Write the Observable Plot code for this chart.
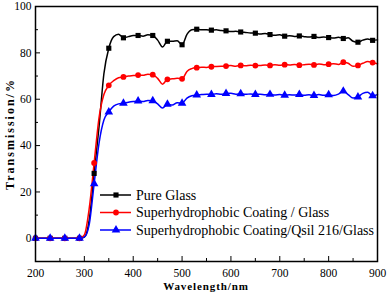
<!DOCTYPE html>
<html><head><meta charset="utf-8">
<script src="https://cdn.jsdelivr.net/npm/d3@7"></script>
<script src="https://cdn.jsdelivr.net/npm/@observablehq/plot@0.6"></script>
<style>body{margin:0;background:#fff}</style>
</head><body><div id="chart"></div>
<script>
const wavelength = [200,210,220,230,240,250,260,270,280,290,300,310,320,330,340,350,360,370,380,390,400,410,420,430,440,450,460,470,480,490,500,510,520,530,540,550,560,570,580,590,600,610,620,630,640,650,660,670,680,690,700,710,720,730,740,750,760,770,780,790,800,810,820,830,840,850,860,870,880,890,900];

const pureGlass = [0,0,0,0,0,0,0,0,0,0,0.5,8,28,48,71,82,87,88,86.5,87,87.5,87.5,87.2,87.8,87.5,85.5,82.5,85,85,85.2,83.5,88,90,90.2,90,90,89.8,90,89.6,89.5,89.2,89.3,89,88.8,88.6,88.5,88.1,88.4,87.9,87.6,87.8,87.2,87.4,87.1,87.3,87,86.8,87.1,86.6,86.8,86.6,86.4,86.7,86.2,86.5,85,84.6,85.5,86,85.4,85.6];

const coatingGlass = [0,0,0,0,0,0,0,0,0,0,1.5,13,32.5,52,62,66,68,69.3,69.6,70,70.2,70.4,70.3,70.8,70.6,69,66.5,68.6,68.8,69,68.8,72,73.2,73.6,73.8,73.7,74,74.1,74.2,74.3,74.5,74.2,74.6,74.4,74.7,74.5,74.6,74.8,74.6,74.9,74.7,74.9,74.8,75,74.7,74.9,75.1,74.8,75.2,74.9,75.1,75.3,75,76,75.5,74.2,74.6,75.5,76.3,75.8,75.3];

const coatingQsilGlass = [0,0,0,0,0,0,0,0,0,0,0.5,6,23.5,41,51,54.5,57,58,58.3,58.7,59,59.2,59,59.5,59.3,58,56.2,57.8,57.5,58.5,58.3,60.5,61.5,61.8,62,62.2,62,62.4,62.1,62.5,62.6,62.2,62.4,62.1,62.3,62,62.2,61.9,62.1,61.8,62,61.7,61.9,61.8,62,61.7,61.9,61.6,62,61.7,61.9,61.6,62.2,63.5,62,60.5,61,62.5,63,61.5,62];

const seriesNames = ["Pure Glass", "Superhydrophobic Coating / Glass", "Superhydrophobic Coating/Qsil 216/Glass"];
const seriesColors = ["#000000", "#ff0000", "#0000ff"];
const seriesSymbols = ["square", "circle", "triangle"];
const xTicks = [200,300,400,500,600,700,800,900];
const xMinor = [250,350,450,550,650,750,850];
const yTicks = [0,20,40,60,80,100];
const yMinor = [-10,10,30,50,70,90];

const seriesValues = [pureGlass, coatingGlass, coatingQsilGlass];
const rows = [];
seriesValues.forEach((vals, s) => vals.forEach((v, i) => rows.push({x: wavelength[i], y: v, s, i})));
const markerRows = rows.filter(d => d.i % 3 === 0);

const plot = Plot.plot({
  width: 389, height: 293,
  marginLeft: 35, marginRight: 12, marginTop: 6, marginBottom: 32,
  style: {fontFamily: "Liberation Serif", fontSize: "11.5px", background: "white", color: "black"},
  x: {domain: [200, 900]},
  y: {domain: [-10, 100]},
  marks: [
    Plot.axisX({ticks: xTicks, tickSize: -5, tickPadding: 12, label: null, tickFormat: d => d}),
    Plot.axisX({ticks: xMinor, tickSize: -3, text: null, label: null}),
    Plot.axisY({ticks: yTicks, tickSize: -5, tickPadding: 9, label: null, tickFormat: d => d}),
    Plot.axisY({ticks: yMinor, tickSize: -3, text: null, label: null}),
    ...[0,1,2].map(s => Plot.line(rows.filter(d => d.s === s), {x: "x", y: "y", stroke: seriesColors[s], strokeWidth: 1.5, curve: "monotone-x"})),
    ...[0,1,2].map(s => Plot.dot(markerRows.filter(d => d.s === s), {x: "x", y: "y", fill: seriesColors[s], stroke: "none", symbol: () => seriesSymbols[s], r: s === 2 ? 3.2 : 2.9})),
    Plot.frame({stroke: "black", strokeWidth: 1.5})
  ]
});
document.getElementById("chart").append(plot);

const svg = d3.select(plot);
// axis titles
svg.append("text").attr("x", 206).attr("y", 290).attr("text-anchor", "middle")
  .attr("font-family", "Liberation Serif").attr("font-weight", "bold").attr("font-size", 11)
  .attr("letter-spacing", 0.9).text("Wavelength/nm");
svg.append("text").attr("transform", "translate(14,134) rotate(-90)").attr("text-anchor", "middle")
  .attr("font-family", "Liberation Serif").attr("font-weight", "bold").attr("font-size", 12)
  .attr("letter-spacing", 2).text("Transmission/%");
// legend
const sym = d3.scaleOrdinal(seriesSymbols, [d3.symbolSquare, d3.symbolCircle, d3.symbolTriangle]);
seriesNames.forEach((name, s) => {
  const y = 195 + s * 17.5;
  const g = svg.append("g");
  g.append("line").attr("x1", 100).attr("x2", 131).attr("y1", y).attr("y2", y)
    .attr("stroke", seriesColors[s]).attr("stroke-width", 1.5);
  g.append("path").attr("transform", `translate(116,${y})`)
    .attr("d", d3.symbol(sym(seriesSymbols[s]), Math.PI * (s === 2 ? 3.2 : 2.9) ** 2)()).attr("fill", seriesColors[s]);
  g.append("text").attr("x", 136).attr("y", y).attr("dy", "0.35em").attr("text-anchor", "start")
    .attr("font-family", "Liberation Serif").attr("font-size", 14).text(name);
});
</script></body></html>
